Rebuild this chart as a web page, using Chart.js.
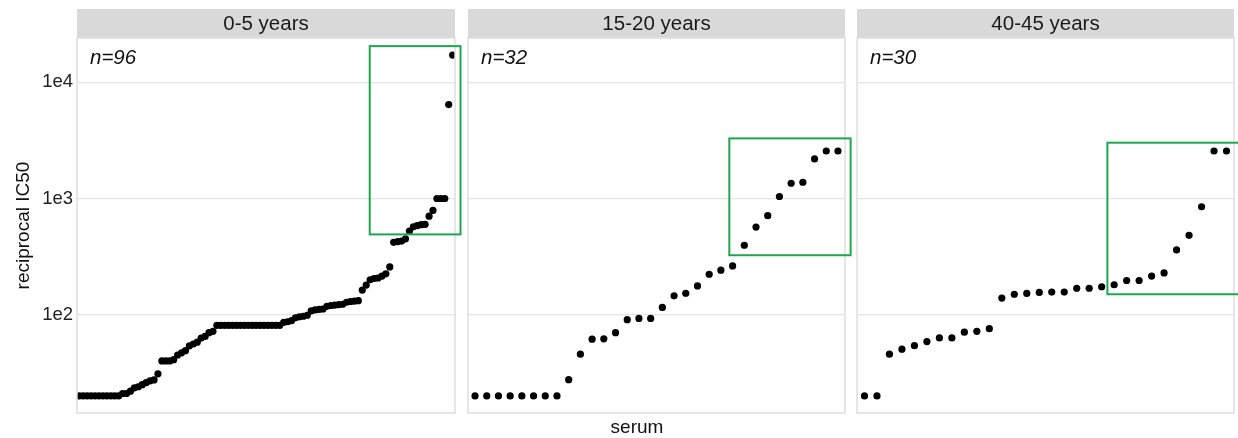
<!DOCTYPE html>
<html>
<head>
<meta charset="utf-8">
<title>reciprocal IC50 by age group</title>
<script src="https://cdn.jsdelivr.net/npm/chart.js@4.4.1/dist/chart.umd.min.js"></script>
<style>
  html, body { margin: 0; padding: 0; background: #ffffff; }
  #wrap { position: relative; width: 1238px; height: 438px; overflow: hidden; background: #ffffff; }
  #wrap canvas { position: absolute; left: 0; top: 0; }
</style>
</head>
<body>
<div id="wrap">
  <canvas id="panel0" width="1238" height="438"></canvas>
  <canvas id="panel1" width="1238" height="438"></canvas>
  <canvas id="panel2" width="1238" height="438"></canvas>
</div>
<script>
// ---- data ----
const panelLabels = ['0-5 years', '15-20 years', '40-45 years'];

// sorted reciprocal IC50 per serum, one list per age group
const ic50Age0to5 = [
  20, 20, 20, 20, 20, 20, 20, 20, 20, 20, 20,
  21, 21, 22,
  23.5, 24, 25,
  26, 27, 27.5,
  31,
  40, 40, 40, 41,
  45, 47, 49,
  54, 56, 58,
  63, 65, 70, 72,
  81, 81, 81, 81, 81, 81, 81, 81, 81, 81, 81, 81, 81, 81, 81, 81, 81,
  86, 87, 89,
  94, 96, 97, 99,
  108, 110, 111, 112,
  118, 120, 121, 122, 123,
  128, 130, 131, 132,
  163, 180,
  200, 205, 207,
  215, 225,
  258,
  420, 425, 430, 450,
  525,
  570, 585, 595, 600,
  705, 789,
  1000, 1000, 1000,
  6430, 17150
];
const ic50Age15to20 = [
  20, 20, 20, 20, 20, 20, 20, 20,
  27.6, 45.8, 61.6, 62, 70, 90.6, 93, 93,
  115.6, 145.5, 153, 177, 223, 241.5, 263,
  396, 568, 711, 1040, 1352, 1380, 2188, 2563, 2563
];
const ic50Age40to45 = [
  20, 20,
  45.8, 50.5, 54.2, 58.7, 63.2, 63.2, 70.7, 72, 75.8,
  139, 150, 152.5, 155.5, 156.6, 156.6, 169, 169, 174, 181, 197, 197, 215, 229,
  361, 482, 849,
  2563, 2563
];

const yTickValues = [100, 1000, 10000];
const yTickLabels = ['1e2', '1e3', '1e4'];

// highlighted top-titre sera: serum-rank range and titre range per panel
const highlightRankFrom = [74.9, 22.72, 20.46];
const highlightRankTo   = [98.0, 33.08, 31.5];
const highlightLow  = [491, 325, 150];
const highlightHigh = [20470, 3290, 3020];

// ---- layout ----
const W = 1238, H = 438;
const plotLeft  = [77, 468, 857];
const plotRight = [455, 845, 1234];
const plotTop = 38, plotBottom = 413;
const stripTop = 9;
const FONT = '"Liberation Sans", Arial, Helvetica, sans-serif';

// shared log y range with 5% expansion (in log space) on every side
const allValues = ic50Age0to5.concat(ic50Age15to20, ic50Age40to45);
const logLo = Math.log10(Math.min(...allValues));
const logHi = Math.log10(Math.max(...allValues));
const logPad = (logHi - logLo) * 0.05;
const yMin = Math.pow(10, logLo - logPad);
const yMax = Math.pow(10, logHi + logPad);

// strips, panel frame, n labels, highlight boxes and axis titles
const facetPlugin = {
  id: 'facet',
  afterDraw(chart, args, opts) {
    const ctx = chart.ctx;
    const a = chart.chartArea;
    ctx.save();

    // strip
    ctx.fillStyle = '#d9d9d9';
    ctx.fillRect(a.left, stripTop, a.right - a.left, a.top - stripTop);
    ctx.fillStyle = '#1a1a1a';
    ctx.font = '20.5px ' + FONT;
    ctx.textAlign = 'center';
    ctx.textBaseline = 'middle';
    ctx.fillText(opts.label, (a.left + a.right) / 2, (stripTop + a.top) / 2 + 1);

    // panel frame
    ctx.strokeStyle = '#dedede';
    ctx.lineWidth = 1.5;
    ctx.strokeRect(a.left, a.top, a.right - a.left, a.bottom - a.top);

    // sample count
    ctx.fillStyle = '#111111';
    ctx.font = 'italic 20.5px ' + FONT;
    ctx.textAlign = 'left';
    ctx.textBaseline = 'alphabetic';
    ctx.fillText('n=' + opts.count, a.left + 13, 64);

    // highlight box
    const xs = chart.scales.x, ys = chart.scales.y;
    const bx0 = xs.getPixelForValue(opts.box[0]);
    const bx1 = xs.getPixelForValue(opts.box[1]);
    const by0 = ys.getPixelForValue(opts.box[3]);
    const by1 = ys.getPixelForValue(opts.box[2]);
    ctx.strokeStyle = '#1fa64f';
    ctx.lineWidth = 2;
    ctx.strokeRect(bx0, by0, bx1 - bx0, by1 - by0);

    // axis titles (drawn once, by the first panel)
    if (opts.titles) {
      ctx.fillStyle = '#111111';
      ctx.font = '19px ' + FONT;
      ctx.textAlign = 'center';
      ctx.textBaseline = 'middle';
      ctx.fillText('serum', 637, 428);
      ctx.translate(24, (a.top + a.bottom) / 2);
      ctx.rotate(-Math.PI / 2);
      ctx.fillText('reciprocal IC50', 0, 0);
    }
    ctx.restore();
  }
};

function makePanel(idx, values) {
  const first = idx === 0;
  const axisWidth = first ? 40 : 0;
  const points = values.map((v, i) => ({ x: i + 1, y: v }));
  return new Chart(document.getElementById('panel' + idx), {
    type: 'scatter',
    data: {
      datasets: [{
        data: points,
        backgroundColor: '#000000',
        borderWidth: 0,
        pointRadius: 3.6,
        pointHoverRadius: 3.6
      }]
    },
    options: {
      responsive: false,
      animation: false,
      events: [],
      layout: {
        padding: {
          left: plotLeft[idx] - axisWidth,
          right: W - plotRight[idx],
          top: plotTop,
          bottom: H - plotBottom
        }
      },
      plugins: {
        legend: { display: false },
        tooltip: { enabled: false },
        facet: {
          label: panelLabels[idx],
          count: values.length,
          box: [highlightRankFrom[idx], highlightRankTo[idx], highlightLow[idx], highlightHigh[idx]],
          titles: first
        }
      },
      scales: {
        x: {
          type: 'linear',
          display: false,
          min: 0.4,
          max: values.length + 0.6
        },
        y: {
          type: 'logarithmic',
          min: yMin,
          max: yMax,
          afterBuildTicks: (s) => { s.ticks = yTickValues.map(v => ({ value: v })); },
          afterFit: (s) => { s.width = axisWidth; },
          border: { display: false },
          grid: { color: '#e4e4e4', lineWidth: 1.3, drawTicks: false },
          ticks: {
            display: first,
            padding: 4,
            color: '#222222',
            font: { family: FONT, size: 18.5 },
            callback: (v, i) => yTickLabels[i]
          }
        }
      }
    },
    plugins: [facetPlugin]
  });
}

makePanel(0, ic50Age0to5);
makePanel(1, ic50Age15to20);
makePanel(2, ic50Age40to45);
</script>
</body>
</html>
